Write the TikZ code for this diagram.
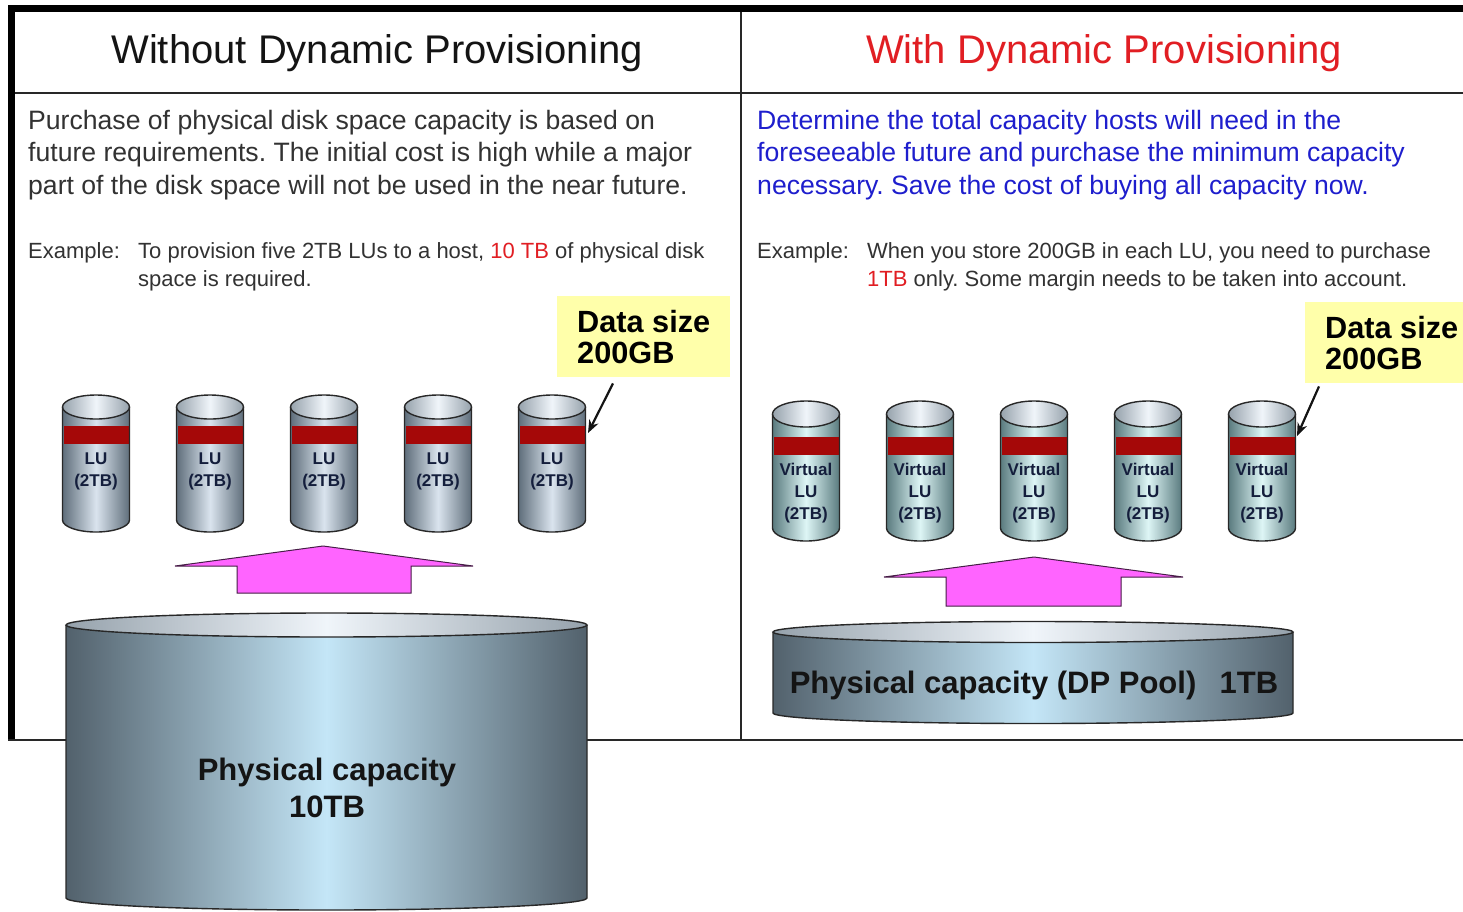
\documentclass[tikz,border=0pt]{standalone}
\usepackage{fontspec}
\setmainfont{Liberation Sans}
\usetikzlibrary{arrows.meta,calc}
\frenchspacing

\definecolor{ink}{RGB}{20,20,20}
\definecolor{bodygray}{RGB}{50,50,50}
\definecolor{bodyblue}{RGB}{30,30,205}
\definecolor{hired}{RGB}{225,30,35}
\definecolor{calloutfill}{RGB}{255,255,170}
\definecolor{band}{RGB}{165,8,8}
\definecolor{pinkfill}{RGB}{255,100,255}
\definecolor{pinkline}{RGB}{70,30,70}
\definecolor{frame}{RGB}{40,40,40}
% drum colours
\definecolor{luedge}{RGB}{95,110,123}
\definecolor{lumid}{RGB}{218,228,238}
\definecolor{vedge}{RGB}{90,123,127}
\definecolor{vmid}{RGB}{222,246,246}
\definecolor{bigedge}{RGB}{82,97,108}
\definecolor{bigmid}{RGB}{196,230,247}
\definecolor{capedge}{RGB}{150,162,172}
\definecolor{capmid}{RGB}{240,245,250}

\tikzset{
  drumline/.style={draw=frame,line width=1.4pt},
  titletext/.style={anchor=base,font=\fontsize{40}{44}\selectfont},
  bodytext/.style={anchor=base west,inner sep=0pt,font=\fontsize{26.6}{32}\selectfont},
  extext/.style={anchor=base west,inner sep=0pt,text=bodygray,font=\fontsize{22}{27}\selectfont},
  callout/.style={fill=calloutfill,anchor=north west,align=left,inner xsep=20pt,
    minimum width=173pt,minimum height=81pt,font=\bfseries\fontsize{30.7}{31}\selectfont},
  drumlabel/.style={align=center,inner sep=0pt,text={rgb,255:red,20;green,30;blue,60},
    font=\bfseries\fontsize{17}{22}\selectfont},
  biglabel/.style={align=center,inner sep=0pt,text=ink,font=\bfseries\fontsize{31}{37}\selectfont},
  callarrow/.style={line width=2.2pt,draw=ink,-{Stealth[length=13pt,width=10pt]}},
  blockarrow/.style={fill=pinkfill,draw=pinkline,line width=1pt,line join=miter},
}

% cylinder: #1 centre x, #2 top y, #3 bottom y, #4 x radius, #5 y radius,
% #6 side edge colour, #7 side middle colour, #8 band top y (or empty), #9 band bottom y
\newcommand{\drum}[9]{%
  \shade[left color=#6,right color=#6,middle color=#7]
    ({#1-#4},#2) -- ({#1-#4},#3) arc[start angle=180,end angle=360,x radius=#4,y radius=#5]
    -- ({#1+#4},#2) -- cycle;
  \shade[left color=capedge,right color=capedge,middle color=capmid]
    (#1,#2) ellipse[x radius=#4,y radius=#5];
  \ifx\relax#8\relax\else
    \fill[band] ({#1-#4+1},#8) rectangle ({#1+#4-1},#9);
  \fi
  \draw[drumline] ({#1-#4},#2) -- ({#1-#4},#3)
    arc[start angle=180,end angle=360,x radius=#4,y radius=#5] -- ({#1+#4},#2);
  \draw[drumline] (#1,#2) ellipse[x radius=#4,y radius=#5];
}

\begin{document}
\begin{tikzpicture}[x=1pt,y=1pt]
\clip (0,0) rectangle (1463,-911);
\fill[white] (0,0) rectangle (1463,-911);

% table frame
\draw[line width=7pt] (8,-8.5) -- (1470,-8.5);
\draw[line width=7pt] (11.5,-5) -- (11.5,-740);
\draw[frame,line width=1.5pt] (15,-93) -- (1470,-93);
\draw[frame,line width=1.5pt] (741,-12) -- (741,-740);
\draw[frame,line width=1.5pt] (8,-740) -- (1470,-740);

% headings
\node[titletext,text=ink] (tL) at (377,-63) {Without Dynamic Provisioning};
\node[titletext,text=hired] (tR) at (1104,-63) {With Dynamic Provisioning};

% left description
\node[bodytext,text=bodygray] (bL1) at (28,-129) {Purchase of physical disk space capacity is based on};
\node[bodytext,text=bodygray] (bL2) at (28,-161) {future requirements. The initial cost is high while a major};
\node[bodytext,text=bodygray] (bL3) at (28,-194) {part of the disk space will not be used in the near future.};
\node[extext] (exL) at (28,-258) {Example:};
\node[extext] (exL1) at (138,-258) {To provision five 2TB LUs to a host, {\color{hired}10 TB} of physical disk};
\node[extext] (exL2) at (138,-286) {space is required.};

% right description
\node[bodytext,text=bodyblue] (bR1) at (757,-129) {Determine the total capacity hosts will need in the};
\node[bodytext,text=bodyblue] (bR2) at (757,-161) {foreseeable future and purchase the minimum capacity};
\node[bodytext,text=bodyblue] (bR3) at (757,-194) {necessary. Save the cost of buying all capacity now.};
\node[extext] (exR) at (757,-258) {Example:};
\node[extext] (exR1) at (867,-258) {When you store 200GB in each LU, you need to purchase};
\node[extext] (exR2) at (867,-286) {{\color{hired}1TB} only. Some margin needs to be taken into account.};

% left: five LUs
\foreach \cx/\nm in {96/luA,210/luB,324/luC,438/luD,552/luE}{
  \drum{\cx}{-407}{-520}{33.5}{12}{luedge}{lumid}{-426}{-444}
  \node[drumlabel] (\nm) at (\cx,-471) {LU\\(2TB)};
}

% right: five virtual LUs
\foreach \cx/\nm in {806/vluA,920/vluB,1034/vluC,1148/vluD,1262/vluE}{
  \drum{\cx}{-414}{-528}{33.5}{13}{vedge}{vmid}{-437}{-455}
  \node[drumlabel] (\nm) at (\cx,-493) {Virtual\\LU\\(2TB)};
}

% block arrows
\draw[blockarrow] (175,-566) -- (323,-546) -- (473,-566) -- (411,-566)
  -- (411,-593) -- (237,-593) -- (237,-566) -- cycle;
\draw[blockarrow] (884,-577) -- (1034,-557) -- (1183,-577) -- (1121,-577)
  -- (1121,-606) -- (946,-606) -- (946,-577) -- cycle;

% physical capacity drums
\drum{326.5}{-625}{-898}{260.5}{12}{bigedge}{bigmid}{}{}
\node[biglabel] (physL) at (327,-788) {Physical capacity\\10TB};
\drum{1033}{-632}{-713}{260}{10.5}{bigedge}{bigmid}{}{}
\node[biglabel] (physR) at (1034,-685) {Physical capacity (DP Pool)\hspace{0.75em}1TB};

% data size callouts
\node[callout] (dsL) at (557,-296) {Data size\\200GB};
\node[callout,inner xsep=18pt] (dsR) at (1305,-302) {Data size\\200GB};
\coordinate (dsLfoot) at ($(dsL.south west)+(56,-6)$);
\coordinate (dsLtip) at (588,-433);
\coordinate (dsRfoot) at ($(dsR.south west)+(14,-3)$);
\coordinate (dsRtip) at (1297,-436);
\draw[callarrow] (dsLfoot) -- (dsLtip);
\draw[callarrow] (dsRfoot) -- (dsRtip);
\end{tikzpicture}
\end{document}
